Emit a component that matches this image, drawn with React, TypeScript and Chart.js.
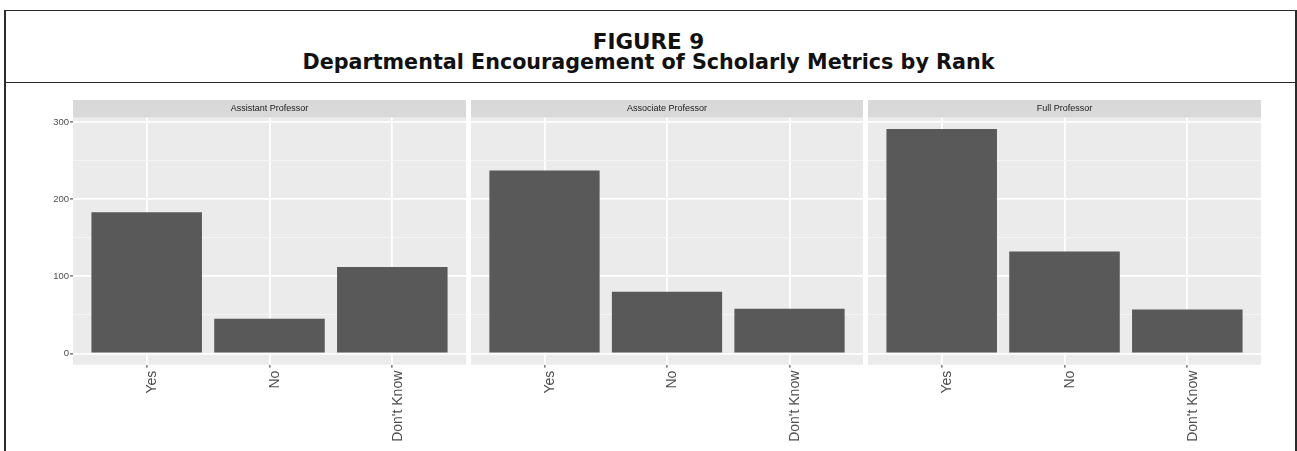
import React, { useEffect, useRef } from "react";
import { Chart, registerables } from "chart.js";

Chart.register(...registerables);

// ---- data ----
const figureLabel = "FIGURE 9";
const figureTitle = "Departmental Encouragement of Scholarly Metrics by Rank";
const panelTitles = ["Assistant Professor", "Associate Professor", "Full Professor"];
const categories = ["Yes", "No", "Don't Know"];
const assistantValues = [183, 45, 112];
const associateValues = [237, 80, 58];
const fullValues = [291, 132, 57];
const yTickLabels = [0, 100, 200, 300];

const panelValues = [assistantValues, associateValues, fullValues];
const dataMax = Math.max(...assistantValues, ...associateValues, ...fullValues);
const yMin = -0.05 * dataMax;
const yMax = dataMax * 1.05;

// ---- layout ----
const FONT = "'Liberation Sans', Arial, Helvetica, sans-serif";
const CANVAS_TOP = 100;
const CANVAS_H = 351;
const STRIP_H = 17.7;
const X_AXIS_H = 86.3;
const panelsLayout = [
  { left: 20, width: 446, axisW: 53, showY: true },
  { left: 471, width: 392, axisW: 0, showY: false },
  { left: 868, width: 393, axisW: 0, showY: false },
];

const panelBgPlugin = {
  id: "panelBg",
  beforeDraw(chart: any) {
    const { ctx, chartArea } = chart;
    ctx.save();
    ctx.fillStyle = "#D9D9D9";
    ctx.fillRect(chartArea.left, chartArea.top - STRIP_H, chartArea.right - chartArea.left, STRIP_H);
    ctx.fillStyle = "#EBEBEB";
    ctx.fillRect(chartArea.left, chartArea.top, chartArea.right - chartArea.left, chartArea.bottom - chartArea.top);
    ctx.restore();
  },
};

function Panel({ idx }: { idx: number }) {
  const ref = useRef<HTMLCanvasElement>(null);
  const lay = panelsLayout[idx];
  useEffect(() => {
    const values = panelValues[idx];
    const isMajor = (ctx: any) => ctx.tick && yTickLabels.includes(ctx.tick.value);
    const chart = new Chart(ref.current as HTMLCanvasElement, {
      type: "bar",
      data: {
        datasets: [
          {
            data: values.map((v, i) => ({ x: i + 1, y: v })),
            backgroundColor: "#595959",
            borderWidth: 0,
            barPercentage: 0.9,
            categoryPercentage: 1,
          } as any,
        ],
      },
      options: {
        animation: false,
        responsive: false,
        maintainAspectRatio: false,
        layout: { padding: 0, autoPadding: false } as any,
        plugins: {
          legend: { display: false },
          tooltip: { enabled: false },
          title: {
            display: true,
            text: panelTitles[idx],
            fullSize: false,
            color: "#1A1A1A",
            font: { size: 9, family: FONT, weight: "normal" as any, lineHeight: 1.2 },
            padding: { top: 3.6, bottom: 3.3 },
          },
        },
        scales: {
          x: {
            type: "linear",
            min: 0.4,
            max: 3.6,
            offset: false,
            afterFit: (s: any) => {
              s.height = X_AXIS_H;
              s.paddingLeft = 0;
              s.paddingRight = 0;
            },
            border: { display: false },
            grid: {
              color: "#FFFFFF",
              lineWidth: 1.8,
              tickColor: "#333333",
              tickLength: 3,
              tickWidth: 1,
              offset: false,
            } as any,
            ticks: {
              stepSize: 1,
              includeBounds: false,
              autoSkip: false,
              minRotation: 90,
              maxRotation: 90,
              padding: 3,
              labelOffset: 5.5,
              color: "#4D4D4D",
              font: { size: 14, family: FONT },
              callback: (v: any) => categories[Number(v) - 1] ?? "",
            } as any,
          },
          y: {
            min: yMin,
            max: yMax,
            afterFit: (s: any) => {
              s.width = lay.axisW;
              s.paddingTop = 0;
              s.paddingBottom = 0;
            },
            border: { display: false },
            grid: {
              color: (ctx: any) => (isMajor(ctx) ? "#FFFFFF" : "#F4F4F4"),
              lineWidth: (ctx: any) => (isMajor(ctx) ? 1.8 : 1),
              tickColor: (ctx: any) => (isMajor(ctx) ? "#333333" : "rgba(0,0,0,0)"),
              tickLength: 3,
              tickWidth: 1,
              drawTicks: lay.showY,
            } as any,
            ticks: {
              display: lay.showY,
              stepSize: 50,
              includeBounds: false,
              padding: 1,
              color: "#4D4D4D",
              font: { size: 9.5, family: FONT },
              callback: (v: any) => (yTickLabels.includes(Number(v)) ? String(v) : ""),
            } as any,
          },
        },
      },
      plugins: [panelBgPlugin],
    });
    return () => chart.destroy();
  }, []);
  return (
    <canvas
      ref={ref}
      width={lay.width}
      height={CANVAS_H}
      style={{ position: "absolute", left: lay.left, top: CANVAS_TOP, width: lay.width, height: CANVAS_H }}
    />
  );
}

export default function App() {
  const line = "#2B2B2B";
  return (
    <div style={{ position: "absolute", left: 0, top: 0, width: 1297, height: 451, background: "#FFFFFF", overflow: "hidden" }}>
      <div style={{ position: "absolute", left: 4, top: 9.5, width: 1293, height: 1.5, background: line }} />
      <div style={{ position: "absolute", left: 4, top: 81.5, width: 1293, height: 1.5, background: line }} />
      <div style={{ position: "absolute", left: 4, top: 10, width: 2, height: 441, background: line }} />
      <div style={{ position: "absolute", left: 1295, top: 10, width: 1.5, height: 441, background: line }} />
      <div
        style={{
          position: "absolute", left: 0, top: 30.5, width: 1297, textAlign: "center",
          fontFamily: "'DejaVu Sans', sans-serif", fontWeight: 700,
          fontSize: 21.5, lineHeight: 1, color: "#111111",
        }}
      >
        {figureLabel}
      </div>
      <div
        style={{
          position: "absolute", left: 0, top: 51.6, width: 1297, textAlign: "center",
          fontFamily: "'DejaVu Sans', sans-serif", fontWeight: 700,
          fontSize: 20.7, lineHeight: 1, color: "#111111",
        }}
      >
        {figureTitle}
      </div>
      {panelsLayout.map((_, i) => (
        <Panel key={i} idx={i} />
      ))}
    </div>
  );
}
